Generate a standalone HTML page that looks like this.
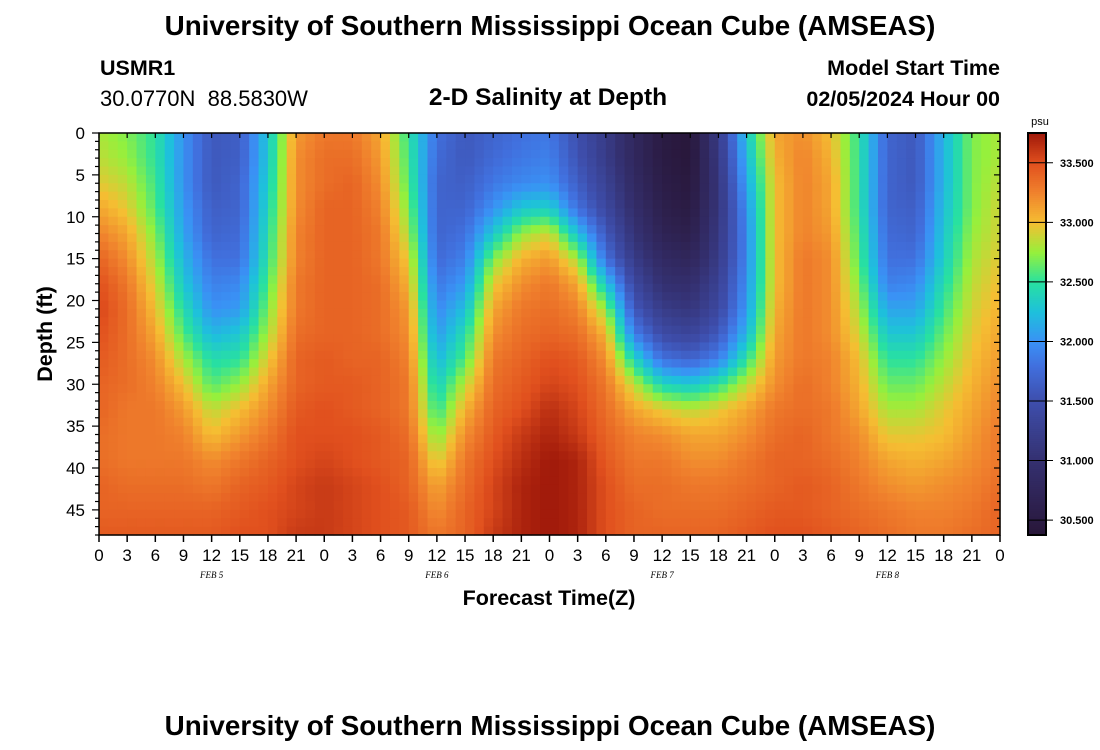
<!DOCTYPE html>
<html><head><meta charset="utf-8"><style>
body{margin:0;background:#fff;}
svg{display:block;font-family:"Liberation Sans",sans-serif;}
</style></head><body>
<svg id="chart" width="1100" height="750" viewBox="0 0 1100 750">
<text x="550" y="35" text-anchor="middle" font-size="27.8" font-weight="bold">University of Southern Mississippi Ocean Cube (AMSEAS)</text>
<text x="100" y="75" font-size="21.5" font-weight="bold">USMR1</text>
<text x="100" y="106" font-size="22">30.0770N&#160; 88.5830W</text>
<text x="548" y="105" text-anchor="middle" font-size="24.5" font-weight="bold">2-D Salinity at Depth</text>
<text x="1000" y="75" text-anchor="end" font-size="21.5" font-weight="bold">Model Start Time</text>
<text x="1000" y="106" text-anchor="end" font-size="21.5" font-weight="bold">02/05/2024 Hour 00</text>
<g id="cells"></g>
<g id="axes"></g>
<text transform="translate(52,334) rotate(-90)" text-anchor="middle" font-size="21.5" font-weight="bold">Depth (ft)</text>
<text x="549" y="605" text-anchor="middle" font-size="21.5" font-weight="bold">Forecast Time(Z)</text>
<text x="550" y="735" text-anchor="middle" font-size="27.8" font-weight="bold">University of Southern Mississippi Ocean Cube (AMSEAS)</text>
<g id="cbar"></g>
</svg>
<script>
const times = [0,3,6,9,12,15,18,21,24,27,30,33,36,39,42,45,48,51,54,57,60,63,66,69,72,75,78,81,84,87,90,93,96];
const depths = [0,3,6,9,12,15,18,21,24,27,30,33,36,39,42,45,48];
const salinity = [
[32.8,32.85,32.95,33.1,33.25,33.4,33.5,33.55,33.5,33.45,33.4,33.4,33.35,33.35,33.4,33.4,33.45],
[32.7,32.75,32.85,32.95,33.1,33.2,33.3,33.35,33.35,33.35,33.35,33.3,33.3,33.3,33.35,33.4,33.45],
[32.5,32.5,32.55,32.6,32.7,32.8,32.9,33.0,33.1,33.2,33.25,33.3,33.3,33.3,33.35,33.4,33.45],
[32.0,32.0,32.0,32.05,32.1,32.2,32.3,32.45,32.6,32.8,33.0,33.15,33.25,33.3,33.35,33.4,33.45],
[31.6,31.6,31.6,31.65,31.7,31.8,31.9,32.0,32.2,32.45,32.6,32.85,33.0,33.2,33.3,33.4,33.45],
[31.65,31.65,31.7,31.7,31.75,31.8,31.95,32.05,32.3,32.5,32.75,33.0,33.15,33.3,33.4,33.45,33.5],
[32.3,32.3,32.35,32.4,32.45,32.5,32.6,32.7,32.8,32.95,33.1,33.2,33.3,33.4,33.45,33.5,33.5],
[33.15,33.2,33.2,33.2,33.25,33.25,33.3,33.3,33.35,33.4,33.4,33.45,33.5,33.5,33.55,33.55,33.6],
[33.3,33.35,33.35,33.4,33.4,33.4,33.4,33.4,33.4,33.45,33.45,33.5,33.5,33.55,33.6,33.6,33.6],
[33.3,33.35,33.4,33.4,33.4,33.4,33.4,33.4,33.4,33.4,33.45,33.45,33.5,33.5,33.55,33.55,33.55],
[33.1,33.15,33.2,33.25,33.3,33.3,33.35,33.35,33.35,33.4,33.4,33.4,33.45,33.45,33.5,33.5,33.5],
[32.5,32.55,32.6,32.7,32.8,32.95,33.05,33.15,33.2,33.25,33.3,33.3,33.35,33.4,33.4,33.45,33.45],
[31.8,31.75,31.7,31.7,31.7,31.75,31.85,31.95,32.05,32.2,32.35,32.5,32.7,32.9,33.1,33.2,33.3],
[31.6,31.6,31.65,31.7,31.8,31.9,32.05,32.25,32.45,32.6,32.85,33.05,33.2,33.3,33.35,33.4,33.4],
[31.7,31.75,31.85,32.0,32.3,32.7,32.95,33.1,33.2,33.3,33.35,33.4,33.45,33.5,33.55,33.55,33.6],
[31.8,31.85,31.95,32.3,32.75,33.05,33.2,33.3,33.35,33.4,33.45,33.5,33.6,33.65,33.7,33.7,33.7],
[31.85,31.9,32.0,32.35,32.9,33.15,33.3,33.35,33.4,33.5,33.55,33.65,33.7,33.75,33.75,33.75,33.75],
[31.5,31.55,31.65,31.8,32.25,32.8,33.1,33.25,33.35,33.45,33.5,33.55,33.6,33.7,33.7,33.7,33.7],
[31.2,31.2,31.3,31.4,31.6,31.8,32.3,32.75,33.05,33.2,33.3,33.35,33.4,33.45,33.5,33.5,33.5],
[30.8,30.8,30.85,30.95,31.05,31.2,31.4,31.6,31.9,32.4,32.85,33.1,33.25,33.3,33.35,33.4,33.4],
[30.5,30.5,30.55,30.6,30.7,30.85,31.0,31.2,31.45,31.8,32.4,32.95,33.2,33.3,33.35,33.35,33.4],
[30.4,30.4,30.45,30.5,30.6,30.75,30.95,31.1,31.35,31.7,32.3,32.85,33.1,33.2,33.3,33.35,33.4],
[31.2,31.15,31.1,31.1,31.15,31.2,31.3,31.4,31.6,31.9,32.5,32.95,33.1,33.2,33.3,33.35,33.4],
[32.3,32.2,32.1,32.0,31.95,31.95,32.0,32.05,32.2,32.5,32.85,33.1,33.2,33.3,33.35,33.4,33.45],
[33.1,33.05,33.0,33.0,33.0,33.0,33.0,33.05,33.1,33.15,33.2,33.3,33.35,33.4,33.4,33.45,33.5],
[33.2,33.25,33.25,33.25,33.25,33.3,33.3,33.3,33.3,33.3,33.35,33.35,33.4,33.4,33.45,33.45,33.5],
[33.0,33.05,33.1,33.1,33.15,33.2,33.2,33.2,33.2,33.25,33.25,33.3,33.3,33.35,33.4,33.4,33.45],
[32.5,32.5,32.5,32.5,32.55,32.6,32.7,32.8,32.9,33.0,33.05,33.1,33.2,33.25,33.3,33.35,33.4],
[31.7,31.7,31.7,31.7,31.75,31.8,31.9,32.1,32.3,32.5,32.65,32.8,32.95,33.1,33.2,33.3,33.35],
[31.6,31.6,31.6,31.65,31.7,31.8,31.95,32.1,32.3,32.5,32.65,32.8,32.95,33.05,33.15,33.25,33.3],
[32.2,32.2,32.2,32.25,32.3,32.35,32.45,32.55,32.65,32.75,32.85,32.95,33.0,33.1,33.2,33.25,33.3],
[32.7,32.7,32.7,32.7,32.75,32.8,32.85,32.9,32.95,33.0,33.05,33.1,33.15,33.2,33.25,33.3,33.35],
[32.8,32.8,32.85,32.9,32.9,32.95,33.0,33.05,33.1,33.15,33.2,33.25,33.3,33.3,33.35,33.4,33.4]
];
const xTickLabels = ["0","3","6","9","12","15","18","21","0","3","6","9","12","15","18","21","0","3","6","9","12","15","18","21","0","3","6","9","12","15","18","21","0"];
const dayLabels = ["FEB 5","FEB 6","FEB 7","FEB 8"];
const yTicks = [0,5,10,15,20,25,30,35,40,45];
const cbarTicks = [33.5,33.0,32.5,32.0,31.5,31.0,30.5];

const NS="http://www.w3.org/2000/svg";
const X0=99,X1=1000,Y0=133,Y1=535,TMAX=96,DMAX=48;
const xs=t=>X0+(t/TMAX)*(X1-X0);
const ys=d=>Y0+(d/DMAX)*(Y1-Y0);
const VMIN=30.375,VMAX=33.75;
const stops=[[30.375,[40,22,56]],[30.75,[48,38,90]],[31.0,[52,48,112]],[31.5,[62,78,172]],[31.8,[65,112,222]],[32.0,[58,145,245]],[32.25,[30,192,220]],[32.5,[40,225,160]],[32.75,[150,240,60]],[33.0,[245,190,50]],[33.25,[240,130,45]],[33.5,[225,80,30]],[33.75,[160,25,10]]];
function color(v){
  if(v<=stops[0][0])return "rgb("+stops[0][1]+")";
  for(let i=1;i<stops.length;i++){if(v<=stops[i][0]){const a=stops[i-1],b=stops[i],f=(v-a[0])/(b[0]-a[0]);
    return "rgb("+a[1].map((c,k)=>Math.round(c+(b[1][k]-c)*f)).join(",")+")";}}
  return "rgb("+stops[stops.length-1][1]+")";
}
function mk(tag,attrs,parent){const e=document.createElementNS(NS,tag);for(const k in attrs)e.setAttribute(k,attrs[k]);parent.appendChild(e);return e;}
const cells=document.getElementById('cells');
const SUB=3;
for(let i=0;i<times.length-1;i++){
  for(let j=0;j<depths.length-1;j++){
    for(let a=0;a<SUB;a++){for(let b=0;b<SUB;b++){
      const fu=(a+0.5)/SUB,fv=(b+0.5)/SUB;
      const v=salinity[i][j]*(1-fu)*(1-fv)+salinity[i+1][j]*fu*(1-fv)+salinity[i][j+1]*(1-fu)*fv+salinity[i+1][j+1]*fu*fv;
      const t0=times[i]+(times[i+1]-times[i])*a/SUB,t1=times[i]+(times[i+1]-times[i])*(a+1)/SUB;
      const d0=depths[j]+(depths[j+1]-depths[j])*b/SUB,d1=depths[j]+(depths[j+1]-depths[j])*(b+1)/SUB;
      const r=mk('rect',{x:xs(t0).toFixed(2),y:ys(d0).toFixed(2),width:(xs(t1)-xs(t0)+0.6).toFixed(2),height:(ys(d1)-ys(d0)+0.6).toFixed(2),fill:color(v)},cells);
      
      
    }}
  }
}
const ax=document.getElementById('axes');
mk('rect',{x:X0,y:Y0,width:X1-X0,height:Y1-Y0,fill:'none',stroke:'#000','stroke-width':1.5},ax);
times.forEach((t,i)=>{
  const x=xs(t);
  mk('line',{x1:x,y1:Y1,x2:x,y2:Y1+7,stroke:'#000','stroke-width':1.5},ax);
  mk('line',{x1:x,y1:Y0,x2:x,y2:Y0+5,stroke:'#000','stroke-width':1.2},ax);
  const tl=mk('text',{x:x,y:561,'text-anchor':'middle','font-size':17},ax);
  tl.textContent=xTickLabels[i];
  
  
});
dayLabels.forEach((l,k)=>{
  const t=mk('text',{x:xs(12+24*k),y:578,'text-anchor':'middle','font-size':9,'font-style':'italic','font-family':'Liberation Serif, serif'},ax);
  t.textContent=l;
  
  
});
for(let d=0;d<=DMAX;d++){
  const y=ys(d),major=d%5===0;
  mk('line',{x1:X0-(major?7:4),y1:y,x2:X0,y2:y,stroke:'#000','stroke-width':1.2},ax);
  mk('line',{x1:X1,y1:y,x2:X1-(major?6:3),y2:y,stroke:'#000','stroke-width':1.2},ax);
}
yTicks.forEach(d=>{
  const t=mk('text',{x:85,y:ys(d)+6,'text-anchor':'end','font-size':17},ax);
  t.textContent=String(d);
  
  
});
const cb=document.getElementById('cbar');
const cy=v=>Y1-(v-VMIN)/(VMAX-VMIN)*(Y1-Y0);
for(let k=0;k<200;k++){
  const v=VMIN+(VMAX-VMIN)*(k+0.5)/200;
  mk('rect',{x:1028,y:(cy(v)-(Y1-Y0)/400).toFixed(2),width:18,height:((Y1-Y0)/200+0.6).toFixed(2),fill:color(v)},cb);
}
mk('rect',{x:1028,y:Y0,width:18,height:Y1-Y0,fill:'none',stroke:'#000','stroke-width':2},cb);
cbarTicks.forEach(v=>{
  const y=cy(v);
  mk('line',{x1:1028,y1:y,x2:1053,y2:y,stroke:'#000','stroke-width':1},cb);
  const t=mk('text',{x:1060,y:y+4,'font-size':11,'font-weight':'bold'},cb);
  t.textContent=v.toFixed(3);
  
  
});
const pu=mk('text',{x:1040,y:125,'text-anchor':'middle','font-size':11},cb);
pu.textContent='psu';


</script>
</body></html>
